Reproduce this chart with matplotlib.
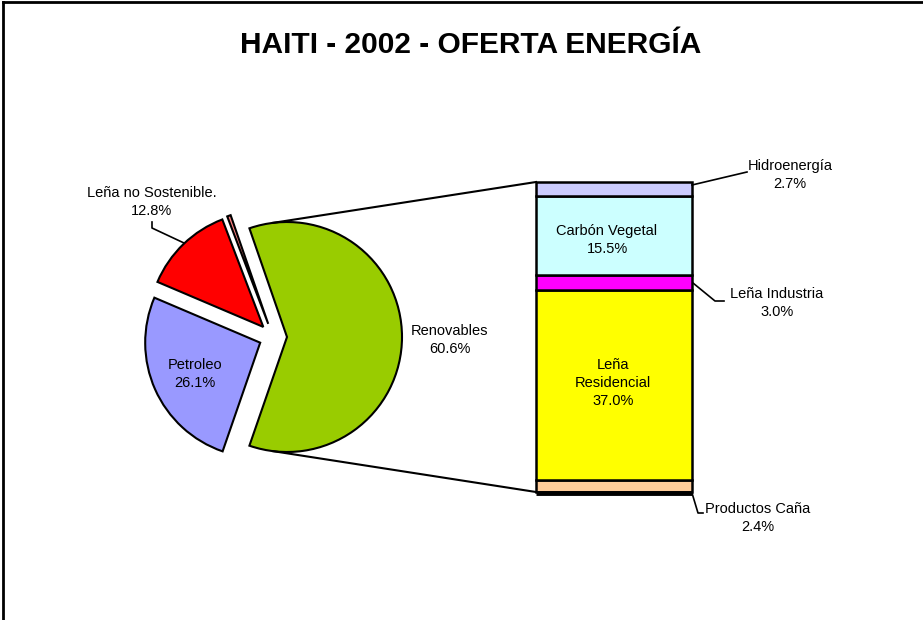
import matplotlib.pyplot as plt
from matplotlib.lines import Line2D
import numpy as np

plt.rcParams['font.family'] = ['Liberation Sans', 'DejaVu Sans']

title = "HAITI - 2002 - OFERTA ENERGÍA"

# pie: share of total supply (%)
pie_labels = ["Renovables", "", "Leña no Sostenible.", "Petroleo"]
pie_values = [60.6, 0.5, 12.8, 26.1]
pie_colors = ["#99CC00", "#FF8080", "#FF0000", "#9999FF"]

# bar: breakdown of Renovables (%), bottom to top
bar_labels = ["Productos Caña", "Leña\nResidencial", "Leña Industria", "Carbón Vegetal", "Hidroenergía"]
bar_values = [2.4, 37.0, 3.0, 15.5, 2.7]
bar_colors = ["#FFCC99", "#FFFF00", "#FF00FF", "#CCFFFF", "#CCCCFF"]

W, H = 923, 620
fig = plt.figure(figsize=(W / 100, H / 100), dpi=100)
ax = fig.add_axes([0, 0, 1, 1])

def py(y):
    # pixel row -> data y
    return H - y

# ---- pie ----
cx, cy, r = 273, py(337), 115
expl = 14  # offset in data units
start = -pie_values[0] / 2 * 3.6
ax.pie(pie_values, colors=pie_colors, startangle=start, counterclock=True,
       center=(cx, cy), radius=r, explode=[expl] * len(pie_values),
       wedgeprops=dict(edgecolor="black", linewidth=1.5), frame=True)
ax.set_xlim(0, W)
ax.set_ylim(0, H)
ax.set_aspect('equal')
ax.axis('off')

fs = 10.5
ls = 1.4
ax.text(195, py(374), "Petroleo\n26.1%", ha="center", va="center", fontsize=fs, linespacing=ls)
ax.text(450, py(340), "Renovables\n60.6%", ha="center", va="center", fontsize=fs, linespacing=ls)
ax.text(152, py(202), "Leña no Sostenible.\n12.8%", ha="center", va="center", fontsize=fs, linespacing=ls)
ax.plot([152, 152, 184], [py(222), py(228), py(243)], color="black", lw=1.2)

# ---- bar ----
bx0, bx1 = 536, 692
btop, bbot = 182, 492
scale = (bbot - btop) / sum(bar_values)
heights = np.array(bar_values) * scale
bottoms = py(bbot) + np.concatenate([[0], np.cumsum(heights)[:-1]])
ax.bar([(bx0 + bx1) / 2] * len(bar_values), heights, width=bx1 - bx0, bottom=bottoms,
       color=bar_colors, edgecolor="black", linewidth=1.8)
ax.plot([bx0, bx1], [py(bbot) - 1, py(bbot) - 1], color="black", lw=3.5, solid_capstyle="butt")

ax.text(607, py(240), "Carbón Vegetal\n15.5%", ha="center", va="center", fontsize=fs, linespacing=ls)
ax.text(613, py(383), "Leña\nResidencial\n37.0%", ha="center", va="center", fontsize=fs, linespacing=ls)
ax.text(790, py(175), "Hidroenergía\n2.7%", ha="center", va="center", fontsize=fs, linespacing=ls)
ax.plot([692, 747], [py(185), py(172)], color="black", lw=1.2)
ax.text(777, py(303), "Leña Industria\n3.0%", ha="center", va="center", fontsize=fs, linespacing=ls)
ax.plot([693, 715, 724], [py(283), py(301), py(301)], color="black", lw=1.2)
ax.text(758, py(518), "Productos Caña\n2.4%", ha="center", va="center", fontsize=fs, linespacing=ls)
ax.plot([692, 698, 703], [py(493), py(513), py(513)], color="black", lw=1.2)

# ---- connector lines ----
gx = cx + expl
for ang, yb in [(97, btop), (-97, bbot)]:
    a = np.deg2rad(ang)
    ax.plot([gx + r * np.cos(a), bx0], [cy + r * np.sin(a), py(yb)], color="black", lw=1.5)

ax.text(471, py(45), title, ha="center", va="center", fontsize=21.5, fontweight="bold")

# chart border (only top and left visible)
fig.add_artist(Line2D([3 / W, 3 / W], [0, 1 - 1.5 / H], transform=fig.transFigure, color="black", lw=2))
fig.add_artist(Line2D([3 / W, 1], [1 - 1.5 / H, 1 - 1.5 / H], transform=fig.transFigure, color="black", lw=2))

fig.savefig("out.png", dpi=100)
